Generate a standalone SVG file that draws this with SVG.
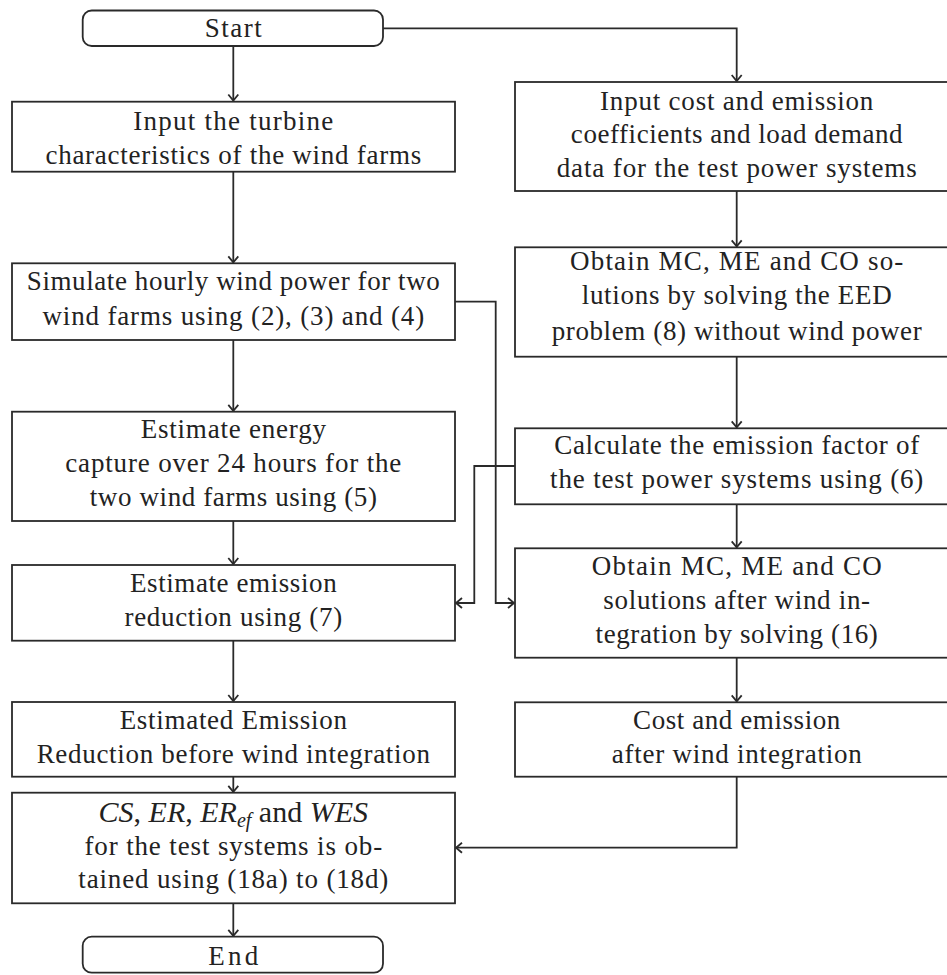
<svg xmlns="http://www.w3.org/2000/svg" width="947" height="975" viewBox="0 0 947 975">
<style>
.box{fill:#fff;stroke:#2a2a2a;stroke-width:1.8}
.t{font-family:"Liberation Serif","Times New Roman",serif;font-size:27px;fill:#222;text-anchor:middle}
.c{fill:none;stroke:#2a2a2a;stroke-width:1.8}
.i{font-style:italic}
.m{font-size:30px}
.s{font-size:20px}
</style>
<defs>
<marker id="ah" markerUnits="userSpaceOnUse" markerWidth="14" markerHeight="14" viewBox="-8 -7 10 14" refX="0" refY="0" orient="auto">
<path d="M-6,-5 L0,0 L-6,5" fill="none" stroke="#2a2a2a" stroke-width="1.8"/>
</marker>
</defs>
<rect width="947" height="975" fill="#fff"/>
<g id="connectors">
<path class="c" d="M233.3,46 V100.5" marker-end="url(#ah)"/>
<path class="c" d="M383,28.3 H736.7 V81" marker-end="url(#ah)"/>
<path class="c" d="M233.3,171.7 V262.4" marker-end="url(#ah)"/>
<path class="c" d="M233.3,340 V410.8" marker-end="url(#ah)"/>
<path class="c" d="M233.3,521 V564" marker-end="url(#ah)"/>
<path class="c" d="M233.3,640.7 V701" marker-end="url(#ah)"/>
<path class="c" d="M233.3,776.7 V791.8" marker-end="url(#ah)"/>
<path class="c" d="M233.3,903.3 V935.8" marker-end="url(#ah)"/>
<path class="c" d="M736.7,191 V246.4" marker-end="url(#ah)"/>
<path class="c" d="M736.7,356.7 V427.4" marker-end="url(#ah)"/>
<path class="c" d="M736.7,504.3 V547.4" marker-end="url(#ah)"/>
<path class="c" d="M736.7,657.7 V701.4" marker-end="url(#ah)"/>
<path class="c" d="M455,301.7 H495.7 V603 H514" marker-end="url(#ah)"/>
<path class="c" d="M515,466 H474.3 V603 H456" marker-end="url(#ah)"/>
<path class="c" d="M736.7,776.7 V847.7 H456" marker-end="url(#ah)"/>
</g>
<g id="start">
<rect class="box" x="82.7" y="10.5" width="300.3" height="35.5" rx="9"/>
<text class="t" x="233.3" y="37" textLength="57" lengthAdjust="spacing">Start</text>
</g>
<g id="input-turbine">
<rect class="box" x="12" y="101.7" width="443" height="70"/>
<text class="t" x="233.3" y="130" textLength="200" lengthAdjust="spacing">Input the turbine</text>
<text class="t" x="233.3" y="163.5" textLength="375.7" lengthAdjust="spacing">characteristics of the wind farms</text>
</g>
<g id="simulate">
<rect class="box" x="12" y="263.3" width="443" height="76.7"/>
<text class="t" x="233.3" y="290" textLength="413" lengthAdjust="spacing">Simulate hourly wind power for two</text>
<text class="t" x="233.3" y="325" textLength="381.7" lengthAdjust="spacing">wind farms using (2), (3) and (4)</text>
</g>
<g id="estimate-energy">
<rect class="box" x="12" y="411.7" width="443" height="109.3"/>
<text class="t" x="233.3" y="438.3" textLength="185.3" lengthAdjust="spacing">Estimate energy</text>
<text class="t" x="233.3" y="472" textLength="336" lengthAdjust="spacing">capture over 24 hours for the</text>
<text class="t" x="233.3" y="506" textLength="287.3" lengthAdjust="spacing">two wind farms using (5)</text>
</g>
<g id="estimate-emission">
<rect class="box" x="12" y="565" width="443" height="75.7"/>
<text class="t" x="233.3" y="591.7" textLength="206.7" lengthAdjust="spacing">Estimate emission</text>
<text class="t" x="233.3" y="625.7" textLength="217.7" lengthAdjust="spacing">reduction using (7)</text>
</g>
<g id="estimated-reduction">
<rect class="box" x="12" y="702" width="443" height="74.7"/>
<text class="t" x="233.3" y="729.3" textLength="227.3" lengthAdjust="spacing">Estimated Emission</text>
<text class="t" x="233.3" y="762.7" textLength="393.3" lengthAdjust="spacing">Reduction before wind integration</text>
</g>
<g id="results">
<rect class="box" x="12" y="792.7" width="443" height="110.6"/>
<text class="t m" x="233.3" y="821.7"><tspan class="i">CS</tspan>, <tspan class="i">ER</tspan>, <tspan class="i">ER</tspan><tspan class="i s" dy="5">ef</tspan><tspan dy="-5"> and </tspan><tspan class="i">WES</tspan></text>
<text class="t" x="233.3" y="854.5" textLength="297.7" lengthAdjust="spacing">for the test systems is ob-</text>
<text class="t" x="233.3" y="888.3" textLength="310" lengthAdjust="spacing">tained using (18a) to (18d)</text>
</g>
<g id="end">
<rect class="box" x="82.7" y="936.7" width="300.3" height="36" rx="9"/>
<text class="t" x="233.3" y="964.5" textLength="50" lengthAdjust="spacing">End</text>
</g>
<g id="input-cost">
<rect class="box" x="515" y="82" width="443" height="109"/>
<text class="t" x="736.7" y="109.5" textLength="273.3" lengthAdjust="spacing">Input cost and emission</text>
<text class="t" x="736.7" y="143.3" textLength="331.7" lengthAdjust="spacing">coefficients and load demand</text>
<text class="t" x="736.7" y="177" textLength="360" lengthAdjust="spacing">data for the test power systems</text>
</g>
<g id="obtain-without">
<rect class="box" x="515" y="247.3" width="443" height="109.4"/>
<text class="t" x="736.7" y="270" textLength="333.3" lengthAdjust="spacing">Obtain MC, ME and CO so-</text>
<text class="t" x="736.7" y="304" textLength="310" lengthAdjust="spacing">lutions by solving the EED</text>
<text class="t" x="736.7" y="340" textLength="370" lengthAdjust="spacing">problem (8) without wind power</text>
</g>
<g id="emission-factor">
<rect class="box" x="515" y="428.3" width="443" height="76"/>
<text class="t" x="736.7" y="453.5" textLength="365" lengthAdjust="spacing">Calculate the emission factor of</text>
<text class="t" x="736.7" y="488.3" textLength="373.3" lengthAdjust="spacing">the test power systems using (6)</text>
</g>
<g id="obtain-after">
<rect class="box" x="515" y="548.3" width="443" height="109.4"/>
<text class="t" x="736.7" y="575" textLength="290" lengthAdjust="spacing">Obtain MC, ME and CO</text>
<text class="t" x="736.7" y="609.3" textLength="266.7" lengthAdjust="spacing">solutions after wind in-</text>
<text class="t" x="736.7" y="643.3" textLength="282.3" lengthAdjust="spacing">tegration by solving (16)</text>
</g>
<g id="cost-after">
<rect class="box" x="515" y="702.3" width="443" height="74.4"/>
<text class="t" x="736.7" y="728.5" textLength="207.3" lengthAdjust="spacing">Cost and emission</text>
<text class="t" x="736.7" y="762.7" textLength="250" lengthAdjust="spacing">after wind integration</text>
</g>
</svg>
